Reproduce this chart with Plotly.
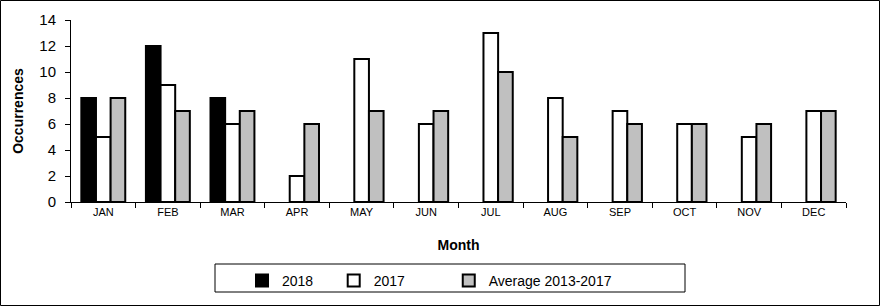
import plotly.graph_objects as go

months = ["JAN", "FEB", "MAR", "APR", "MAY", "JUN", "JUL", "AUG", "SEP", "OCT", "NOV", "DEC"]
y2018 = [8, 12, 8, None, None, None, None, None, None, None, None, None]
y2017 = [5, 9, 6, 2, 11, 6, 13, 8, 7, 6, 5, 7]
avg_2013_2017 = [8, 7, 7, 6, 7, 7, 10, 5, 6, 6, 6, 7]
series_names = ["2018", "2017", "Average 2013-2017"]

FONT = "Liberation Sans, Arial, sans-serif"
L, R, T, B = 71, 34, 20, 104
W, H = 880, 306
pw, ph = W - L - R, H - T - B

def px_x(p):
    return (p - L) / pw

def px_y(p):
    return (H - B - p) / ph

NB = "\u00a0"
fig = go.Figure()
line = dict(color="black", width=2)
fig.add_trace(go.Bar(x=months, y=y2018, name=series_names[0] + NB * 4,
                     marker=dict(color="black", line=line)))
fig.add_trace(go.Bar(x=months, y=y2017, name=series_names[1] + NB * 10,
                     marker=dict(color="white", line=line)))
fig.add_trace(go.Bar(x=months, y=avg_2013_2017, name=series_names[2],
                     marker=dict(color="#c0c0c0", line=line)))

fig.update_layout(
    width=W, height=H,
    margin=dict(l=L, r=R, t=T, b=B, pad=0, autoexpand=False),
    paper_bgcolor="white", plot_bgcolor="white",
    barmode="group", bargap=0.32, bargroupgap=0,
    font=dict(family=FONT, color="black"),
    showlegend=True,
    legend=dict(orientation="h", x=px_x(242), xanchor="left", y=px_y(265), yanchor="top",
                font=dict(size=14, family=FONT), bgcolor="rgba(0,0,0,0)",
                traceorder="normal"),
    shapes=[
        dict(type="rect", xref="paper", yref="paper",
             x0=px_x(0.5), x1=px_x(879.5), y0=px_y(0.5), y1=px_y(305.5),
             line=dict(color="black", width=1), layer="below"),
        dict(type="rect", xref="paper", yref="paper",
             x0=px_x(215), x1=px_x(685), y0=px_y(264), y1=px_y(292),
             line=dict(color="black", width=1)),
    ],
)

fig.update_xaxes(
    type="category", tickson="boundaries", ticks="outside", ticklen=5, tickcolor="black",
    showline=True, linecolor="black", linewidth=1, showgrid=False,
    tickfont=dict(size=11, family=FONT),
    title=dict(text="<b>Month</b>", font=dict(size=14, family=FONT), standoff=22),
    range=[-0.5, 11.5],
)
fig.update_yaxes(
    range=[0, 14], dtick=2, ticks="outside", ticklen=5, tickcolor="black",
    showline=True, linecolor="black", linewidth=1, showgrid=False, zeroline=False,
    tickfont=dict(size=15, family=FONT), ticklabelstandoff=6,
    title=dict(text="<b>Occurrences</b>", font=dict(size=14, family=FONT), standoff=12),
)

fig.write_html("out.html", config={"displayModeBar": False},
               post_script="document.body.style.margin='0';")
